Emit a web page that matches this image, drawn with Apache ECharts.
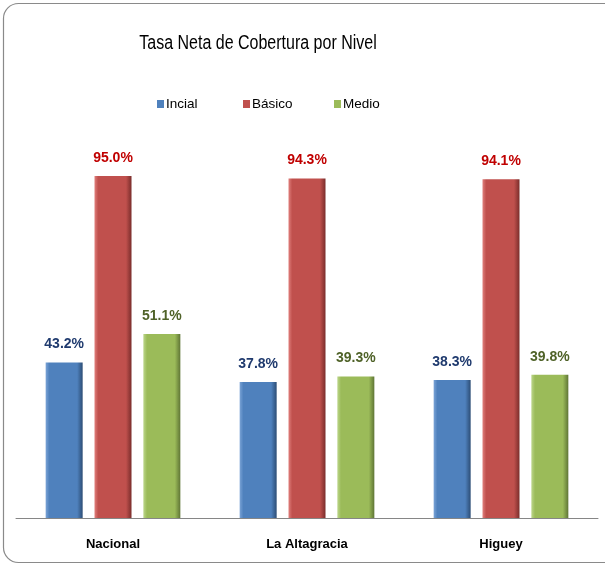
<!DOCTYPE html>
<html>
<head>
<meta charset="utf-8">
<script src="https://cdn.jsdelivr.net/npm/echarts@6/dist/echarts.min.js"></script>
<style>
html,body{margin:0;padding:0;background:#fff;}
#chart{width:605px;height:565px;}
</style>
</head>
<body>
<div id="chart"></div>
<script>
var titleText = 'Tasa Neta de Cobertura por Nivel';
var categories = ['Nacional', 'La Altagracia', 'Higuey'];
var seriesNames = ['Incial', 'Básico', 'Medio'];
var inicialValues = [43.2, 37.8, 38.3];
var basicoValues = [95.0, 94.3, 94.1];
var medioValues = [51.1, 39.3, 39.8];

var FONT = '"Liberation Sans", Arial, sans-serif';
var COLORS = ['#4F81BD', '#C0504D', '#9BBB59'];

function bevel(main, dark, light) {
  return new echarts.graphic.LinearGradient(0, 0, 1, 0, [
    {offset: 0, color: light},
    {offset: 0.1, color: main},
    {offset: 0.85, color: main},
    {offset: 1, color: dark}
  ]);
}

function makeSeries(name, data, main, dark, light, labelColor) {
  return {
    name: name,
    type: 'bar',
    data: data,
    barWidth: 37,
    barGap: '32%',
    itemStyle: {color: bevel(main, dark, light)},
    label: {
      show: true,
      position: 'top',
      distance: 11,
      formatter: function (p) { return p.value.toFixed(1) + '%'; },
      color: labelColor,
      fontFamily: FONT,
      fontWeight: 'bold',
      fontSize: 14
    }
  };
}

function legendItem(i, left) {
  return {
    data: [{name: seriesNames[i], itemStyle: {color: COLORS[i]}}],
    left: left,
    top: 92,
    icon: 'rect',
    itemWidth: 7,
    itemHeight: 8,
    textStyle: {fontFamily: FONT, fontSize: 13.5, color: '#000', padding: [0, 0, 0, -3]}
  };
}

var chart = echarts.init(document.getElementById('chart'), null, {renderer: 'canvas'});
chart.setOption({
  animation: false,
  backgroundColor: '#ffffff',
  color: COLORS,
  graphic: [{
    type: 'rect',
    shape: {x: 3.5, y: 3.5, width: 640, height: 559, r: 15},
    style: {fill: 'none', stroke: '#8a8a8a', lineWidth: 1.2},
    z: -1
  }, {
    type: 'text',
    x: 258,
    y: 43,
    scaleX: 0.8,
    style: {
      text: titleText,
      fontFamily: FONT,
      fontSize: 20,
      fill: '#000',
      align: 'center',
      verticalAlign: 'middle'
    }
  }],
  legend: [legendItem(0, 152), legendItem(1, 238), legendItem(2, 329)],
  grid: {left: 16, right: 7, top: 158, bottom: 47, containLabel: false},
  xAxis: {
    type: 'category',
    data: categories,
    axisLine: {lineStyle: {color: '#868686', width: 1}},
    axisTick: {show: false},
    axisLabel: {
      fontFamily: FONT, fontWeight: 'bold', fontSize: 13, color: '#000', margin: 20
    }
  },
  yAxis: {
    type: 'value',
    min: 0,
    max: 100,
    interval: 20,
    show: false,
    splitLine: {show: false}
  },
  series: [
    makeSeries(seriesNames[0], inicialValues, '#4F81BD', '#2c4d75', '#7aa3d6', '#1F3A6E'),
    makeSeries(seriesNames[1], basicoValues, '#C0504D', '#7a2d2b', '#e07f7c', '#C00000'),
    makeSeries(seriesNames[2], medioValues, '#9BBB59', '#5f7535', '#bcd68a', '#4F6228')
  ]
});
</script>
</body>
</html>
